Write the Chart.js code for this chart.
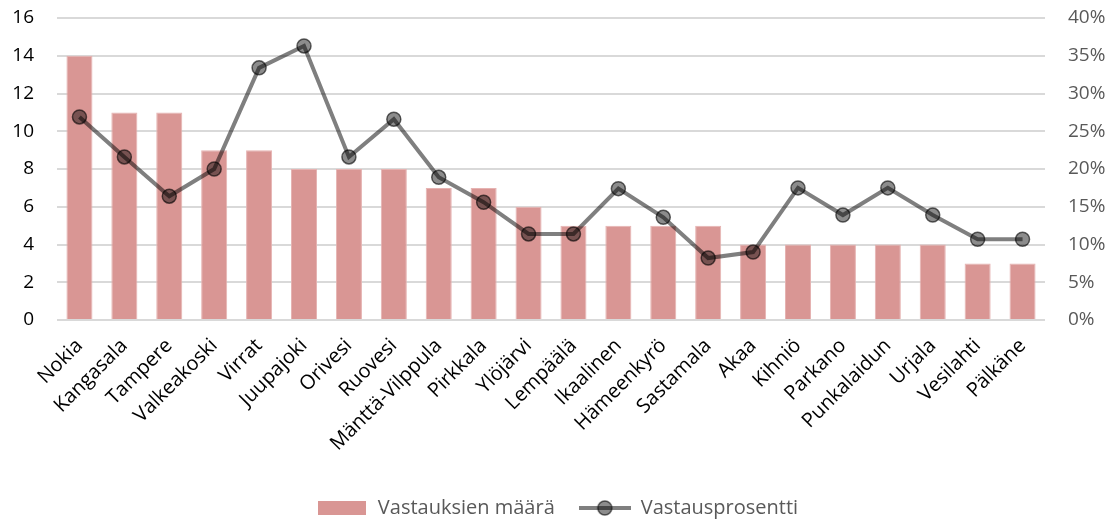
<!DOCTYPE html>
<html>
<head>
<meta charset="utf-8">
<script src="https://cdn.jsdelivr.net/npm/chart.js@4"></script>
<style>
  html, body { margin: 0; padding: 0; background: #fff; }
  #wrap { width: 1114px; height: 521px; }
</style>
</head>
<body>
<div id="wrap"><canvas id="grafico" width="1114" height="521"></canvas></div>
<script>
const kunnat = ["Nokia", "Kangasala", "Tampere", "Valkeakoski", "Virrat", "Juupajoki", "Orivesi", "Ruovesi",
  "Mänttä-Vilppula", "Pirkkala", "Ylöjärvi", "Lempäälä", "Ikaalinen", "Hämeenkyrö", "Sastamala", "Akaa",
  "Kihniö", "Parkano", "Punkalaidun", "Urjala", "Vesilahti", "Pälkäne"];
const vastaukset = [14, 11, 11, 9, 9, 8, 8, 8, 7, 7, 6, 5, 5, 5, 5, 4, 4, 4, 4, 4, 3, 3];
const prosentit = [0.269, 0.216, 0.164, 0.200, 0.334, 0.363, 0.216, 0.266, 0.189, 0.156, 0.114, 0.114,
  0.174, 0.136, 0.082, 0.090, 0.175, 0.139, 0.175, 0.139, 0.107, 0.107];

const fontti = "'Open Sans', 'Liberation Sans', sans-serif";

// legend symbols
function laatikko() {
  const c = document.createElement("canvas");
  c.width = 48; c.height = 14;
  const g = c.getContext("2d");
  g.fillStyle = "#d99694";
  g.fillRect(0, 0, 48, 14);
  return c;
}
function viivaPallo() {
  const c = document.createElement("canvas");
  c.width = 52; c.height = 18;
  const g = c.getContext("2d");
  g.strokeStyle = "rgba(0,0,0,0.5)";
  g.lineWidth = 4;
  g.beginPath(); g.moveTo(0, 9); g.lineTo(52, 9); g.stroke();
  g.fillStyle = "rgba(0,0,0,0.45)";
  g.strokeStyle = "rgba(0,0,0,0.6)";
  g.lineWidth = 1.5;
  g.beginPath(); g.arc(26, 9, 7, 0, Math.PI * 2); g.fill(); g.stroke();
  return c;
}
const symbolit = [laatikko(), viivaPallo()];

const ctx = document.getElementById("grafico").getContext("2d");
const grafico = new Chart(ctx, {
  data: {
    labels: kunnat,
    datasets: [
      {
        type: "bar",
        label: "Vastauksien määrä",
        data: vastaukset,
        backgroundColor: "#d99694",
        borderColor: "#e6b3b2",
        borderWidth: 1,
        barPercentage: 0.58,
        categoryPercentage: 1,
        yAxisID: "y",
        order: 2,
      },
      {
        type: "line",
        label: "Vastausprosentti",
        data: prosentit,
        borderColor: "rgba(0,0,0,0.5)",
        borderWidth: 4,
        pointRadius: 7,
        pointBackgroundColor: "rgba(0,0,0,0.45)",
        pointBorderColor: "rgba(0,0,0,0.6)",
        pointBorderWidth: 1.5,
        tension: 0,
        fill: false,
        yAxisID: "y1",
        order: 1,
      },
    ],
  },
  options: {
    responsive: false,
    animation: false,
    layout: { padding: { left: 0, right: 0, top: 18, bottom: -7 } },
    plugins: {
      tooltip: { enabled: false },
      legend: {
        position: "bottom",
        labels: {
          usePointStyle: true,
          pointStyleWidth: 52,
          padding: 24,
          color: "#595959",
          font: { family: fontti, size: 20 },
          generateLabels: (chart) => chart.data.datasets.map((ds, i) => ({
            text: ds.label,
            pointStyle: symbolit[i],
            fontColor: "#595959",
            datasetIndex: i,
            hidden: false,
          })),
        },
      },
    },
    scales: {
      x: {
        grid: { display: false },
        border: { display: false },
        ticks: {
          color: "#000",
          minRotation: 45,
          maxRotation: 45,
          autoSkip: false,
          padding: 6,
          font: { family: fontti, size: 20 },
        },
        afterFit: (s) => { s.height = 154; s.paddingLeft = 0; s.paddingRight = 0; },
      },
      y: {
        position: "left",
        min: 0,
        max: 16,
        ticks: {
          stepSize: 2,
          color: "#000",
          padding: 23,
          font: { family: fontti, size: 19 },
        },
        grid: { color: "#d9d9d9", lineWidth: 2, drawTicks: false },
        border: { display: false },
        afterFit: (s) => { s.width = 57; s.paddingTop = 0; s.paddingBottom = 0; },
      },
      y1: {
        position: "right",
        min: 0,
        max: 0.4,
        ticks: {
          stepSize: 0.05,
          color: "#595959",
          padding: 23,
          font: { family: fontti, size: 19 },
          callback: (v) => Math.round(v * 100) + "%",
        },
        grid: { drawOnChartArea: false, drawTicks: false },
        border: { display: false },
        afterFit: (s) => { s.width = 69; s.paddingTop = 0; s.paddingBottom = 0; },
      },
    },
  },
});
</script>
</body>
</html>
